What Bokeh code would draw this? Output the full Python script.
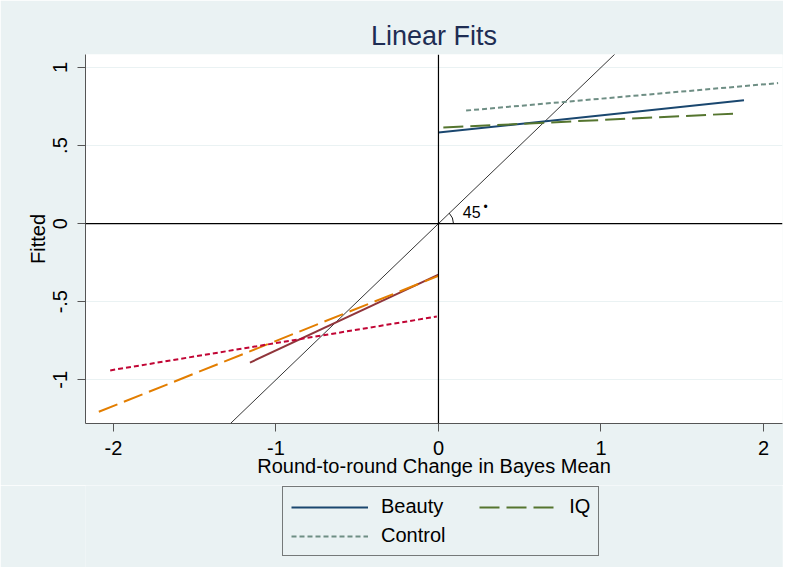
import numpy as np
from bokeh.plotting import figure
from bokeh.layouts import column
from bokeh.models import Span, Legend, LegendItem, FixedTicker, Range1d
from bokeh.core.properties import value
from bokeh.embed import file_html
from bokeh.resources import INLINE

# ---- data ----
beauty_pos_x = [0.0, 1.88]
beauty_pos_y = [0.583, 0.79]
beauty_neg_x = [-1.16, 0.0]
beauty_neg_y = [-0.89, -0.327]
iq_pos_x = [0.03, 1.83]
iq_pos_y = [0.615, 0.705]
iq_neg_x = [-2.09, 0.0]
iq_neg_y = [-1.205, -0.335]
control_pos_x = [0.17, 2.09]
control_pos_y = [0.724, 0.90]
control_neg_x = [-2.02, -0.01]
control_neg_y = [-0.94, -0.595]
diag_x = [-1.5, 1.5]
diag_y = [-1.5, 1.5]

x_ticks = [-2, -1, 0, 1, 2]
x_tick_labels = {-2: "-2", -1: "-1", 0: "0", 1: "1", 2: "2"}
y_ticks = [-1, -0.5, 0, 0.5, 1]
y_tick_labels = {-1: "-1", -0.5: "-.5", 0: "0", 0.5: ".5", 1: "1"}

legend_labels = ["Beauty", "IQ", "Control"]

angle_label_x = [0.15]
angle_label_y = [0.075]
angle_dot_x = [0.29]
angle_dot_y = [0.105]

BG = "#EAF2F3"
FONT = "Liberation Sans"
COL_BEAUTY, COL_IQ, COL_CTRL = "#1A476F", "#55752F", "#6E8E84"
DASH_IQ, DASH_CTRL = "20 7", "5 3"

p = figure(width=783, height=485, output_backend="svg", toolbar_location=None,
           x_range=Range1d(-2.172, 2.117), y_range=Range1d(-1.28, 1.083),
           min_border_left=85, min_border_right=1, min_border_top=54,
           min_border_bottom=62,
           background_fill_color="white", border_fill_color=BG,
           outline_line_color=None)

p.title.text = "Linear Fits"
p.title.align = "center"
p.title.text_font = FONT
p.title.text_font_size = "27px"
p.title.text_font_style = "normal"
p.title.text_color = "#1E2D53"
p.title.standoff = 7

p.xaxis.ticker = FixedTicker(ticks=x_ticks)
p.yaxis.ticker = FixedTicker(ticks=y_ticks)
p.xaxis.major_label_overrides = x_tick_labels
p.yaxis.major_label_overrides = y_tick_labels
p.yaxis.major_label_orientation = "vertical"
p.xaxis.axis_label = "Round-to-round Change in Bayes Mean"
p.yaxis.axis_label = "Fitted"

for ax in (p.xaxis[0], p.yaxis[0]):
    ax.axis_line_color = "#555555"
    ax.major_tick_line_color = "#555555"
    ax.major_tick_out = 8
    ax.major_tick_in = 0
    ax.minor_tick_line_color = None
    ax.major_label_text_font = FONT
    ax.major_label_text_font_size = "20px"
    ax.major_label_text_color = "black"
    ax.axis_label_text_font = FONT
    ax.axis_label_text_font_size = "20px"
    ax.axis_label_text_font_style = "normal"
    ax.axis_label_text_color = "black"
p.xaxis.major_label_standoff = 9
p.xaxis.axis_label_standoff = -3
p.yaxis.major_label_standoff = 10
p.yaxis.axis_label_standoff = 2

p.xgrid.visible = False
p.ygrid.grid_line_color = BG
p.ygrid.grid_line_width = 1.2

p.add_layout(Span(location=0, dimension="width", line_color="black", line_width=1.2))
p.add_layout(Span(location=0, dimension="height", line_color="black", line_width=1.2))

p.line(diag_x, diag_y, line_color="black", line_width=0.8)
p.arc(x=[0], y=[0], radius=15, radius_units="screen", start_angle=0,
      end_angle=np.deg2rad(44), line_color="black", line_width=0.9)
p.text(x=angle_label_x, y=angle_label_y, text=["45"], text_font=value(FONT),
       text_font_size="16px", text_baseline="alphabetic", text_align="left",
       text_color="black")
p.text(x=angle_dot_x, y=angle_dot_y, text=["•"], text_font=value(FONT),
       text_font_size="12px", text_baseline="alphabetic", text_align="center",
       text_color="black")

p.line(beauty_pos_x, beauty_pos_y, line_color=COL_BEAUTY, line_width=2)
p.line(beauty_neg_x, beauty_neg_y, line_color="#90353B", line_width=2)
p.line(iq_pos_x, iq_pos_y, line_color=COL_IQ, line_width=2, line_dash=DASH_IQ)
p.line(iq_neg_x, iq_neg_y, line_color="#E37E00", line_width=2, line_dash=DASH_IQ)
p.line(control_pos_x, control_pos_y, line_color=COL_CTRL, line_width=2, line_dash=DASH_CTRL)
p.line(control_neg_x, control_neg_y, line_color="#C10534", line_width=2, line_dash=DASH_CTRL)

# ---- legend strip (separate figure below the plot) ----
lg = figure(width=783, height=82, output_backend="svg", toolbar_location=None,
            x_range=Range1d(0, 1), y_range=Range1d(0, 1),
            min_border=0, background_fill_color=BG, border_fill_color=BG,
            outline_line_color=None)
lg.axis.visible = False
lg.grid.visible = False
k_beauty = lg.line(beauty_pos_x, beauty_pos_y, line_color=COL_BEAUTY, line_width=2, visible=False)
k_iq = lg.line(iq_pos_x, iq_pos_y, line_color=COL_IQ, line_width=2, line_dash=DASH_IQ, visible=False)
k_ctrl = lg.line(control_pos_x, control_pos_y, line_color=COL_CTRL, line_width=2, line_dash=DASH_CTRL, visible=False)

legend = Legend(items=[LegendItem(label=legend_labels[0] + "\u2002\u2002\u2002", renderers=[k_beauty]),
                       LegendItem(label=legend_labels[1], renderers=[k_iq]),
                       LegendItem(label=legend_labels[2], renderers=[k_ctrl])],
                location=(197, 11), orientation="horizontal", ncols=2,
                border_line_color="black", border_line_width=1,
                background_fill_color=BG, background_fill_alpha=1,
                label_text_font=FONT, label_text_font_size="20px",
                label_text_color="black",
                glyph_width=77, glyph_height=22, label_standoff=13,
                padding=8, spacing=6, margin=0, click_policy="none")
lg.add_layout(legend)

layout = column(p, lg, spacing=0)
open("out.html", "w").write(file_html(layout, INLINE))
